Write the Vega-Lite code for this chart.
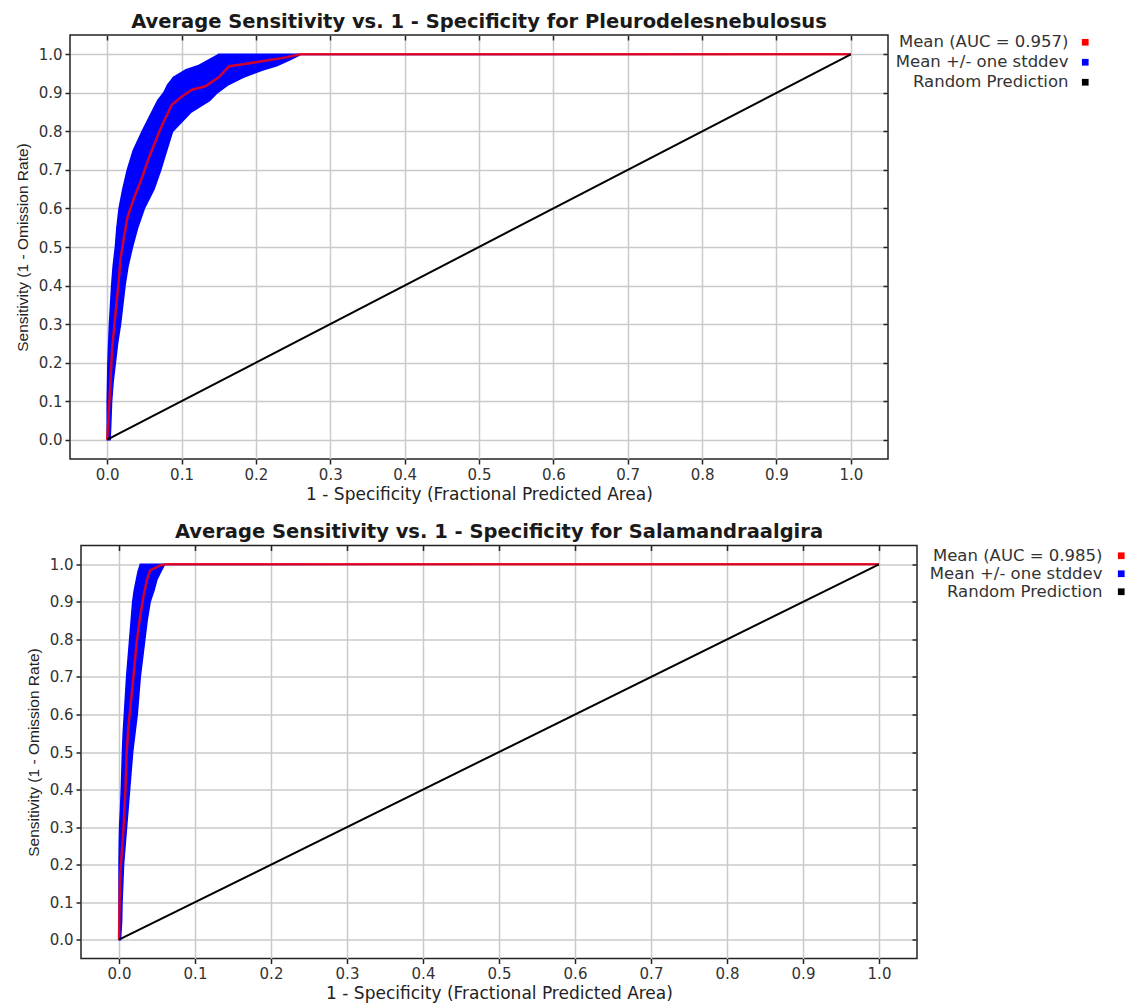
{
  "$schema": "https://vega.github.io/schema/vega-lite/v6.json",
  "background": "white",
  "padding": {"left": 5, "top": 11, "right": 0, "bottom": 0},
  "config": {
    "view": {"stroke": "#222", "strokeWidth": 1.5},
    "axis": {
      "domain": false,
      "grid": true,
      "gridColor": "#cacaca",
      "gridWidth": 1.5,
      "tickColor": "#222",
      "tickWidth": 1.5,
      "tickSize": 5,
      "labelFont": "DejaVu Sans",
      "labelFontSize": 15,
      "labelColor": "#333",
      "labelPadding": 3,
      "labelFlush": false,
      "titleFont": "DejaVu Sans",
      "titleFontSize": 17,
      "titleFontWeight": "normal",
      "titleColor": "#222"
    },
    "axisY": {"titleFont": "Liberation Sans", "titleFontSize": 15.5, "titlePadding": 8},
    "axisX": {"titlePadding": 4},
    "title": {"font": "DejaVu Sans", "fontSize": 19.5, "fontWeight": "bold", "color": "#1a1a1a", "offset": 2, "anchor": "middle", "frame": "group"},
    "legend": {
      "orient": "none",
      "title": null,
      "padding": 0,
      "symbolType": "square",
      "symbolSize": 45,
      "symbolStrokeWidth": 0,
      "labelFont": "DejaVu Sans",
      "labelFontSize": 16.5,
      "labelColor": "#333",
      "labelAlign": "right",
      "labelLimit": 400,
      "rowPadding": 3
    }
  },
  "datasets": {
    "band1": [
      {"series": "Mean +/- one stddev", "sens": 0, "lo": 0, "hi": 0.004},
      {"series": "Mean +/- one stddev", "sens": 0.05, "lo": 0, "hi": 0.005},
      {"series": "Mean +/- one stddev", "sens": 0.1, "lo": 0, "hi": 0.006},
      {"series": "Mean +/- one stddev", "sens": 0.15, "lo": 0.0005, "hi": 0.008},
      {"series": "Mean +/- one stddev", "sens": 0.2, "lo": 0.001, "hi": 0.011},
      {"series": "Mean +/- one stddev", "sens": 0.25, "lo": 0.002, "hi": 0.014},
      {"series": "Mean +/- one stddev", "sens": 0.3, "lo": 0.003, "hi": 0.018},
      {"series": "Mean +/- one stddev", "sens": 0.35, "lo": 0.0045, "hi": 0.021},
      {"series": "Mean +/- one stddev", "sens": 0.4, "lo": 0.006, "hi": 0.024},
      {"series": "Mean +/- one stddev", "sens": 0.45, "lo": 0.008, "hi": 0.028},
      {"series": "Mean +/- one stddev", "sens": 0.5, "lo": 0.011, "hi": 0.034},
      {"series": "Mean +/- one stddev", "sens": 0.55, "lo": 0.013, "hi": 0.041},
      {"series": "Mean +/- one stddev", "sens": 0.6, "lo": 0.016, "hi": 0.05},
      {"series": "Mean +/- one stddev", "sens": 0.65, "lo": 0.021, "hi": 0.063},
      {"series": "Mean +/- one stddev", "sens": 0.7, "lo": 0.027, "hi": 0.072},
      {"series": "Mean +/- one stddev", "sens": 0.75, "lo": 0.035, "hi": 0.08},
      {"series": "Mean +/- one stddev", "sens": 0.8, "lo": 0.047, "hi": 0.088},
      {"series": "Mean +/- one stddev", "sens": 0.85, "lo": 0.06, "hi": 0.113},
      {"series": "Mean +/- one stddev", "sens": 0.88, "lo": 0.068, "hi": 0.138},
      {"series": "Mean +/- one stddev", "sens": 0.9, "lo": 0.076, "hi": 0.148},
      {"series": "Mean +/- one stddev", "sens": 0.92, "lo": 0.081, "hi": 0.162},
      {"series": "Mean +/- one stddev", "sens": 0.94, "lo": 0.089, "hi": 0.183},
      {"series": "Mean +/- one stddev", "sens": 0.96, "lo": 0.106, "hi": 0.21},
      {"series": "Mean +/- one stddev", "sens": 0.97, "lo": 0.122, "hi": 0.228},
      {"series": "Mean +/- one stddev", "sens": 0.985, "lo": 0.136, "hi": 0.245},
      {"series": "Mean +/- one stddev", "sens": 0.9995, "lo": 0.15, "hi": 0.26},
      {"series": "Mean +/- one stddev", "sens": 1.0, "lo": 0.15, "hi": 1.0}
    ],
    "mean1": [
      {"fpr": 0, "sens": 0},
      {"fpr": 0.003, "sens": 0.1},
      {"fpr": 0.0067, "sens": 0.237},
      {"fpr": 0.011, "sens": 0.324},
      {"fpr": 0.015, "sens": 0.4},
      {"fpr": 0.018, "sens": 0.471},
      {"fpr": 0.027, "sens": 0.575},
      {"fpr": 0.036, "sens": 0.627},
      {"fpr": 0.045, "sens": 0.67},
      {"fpr": 0.056, "sens": 0.731},
      {"fpr": 0.065, "sens": 0.775},
      {"fpr": 0.074, "sens": 0.817},
      {"fpr": 0.087, "sens": 0.869},
      {"fpr": 0.1, "sens": 0.89},
      {"fpr": 0.114, "sens": 0.908},
      {"fpr": 0.132, "sens": 0.917},
      {"fpr": 0.15, "sens": 0.94},
      {"fpr": 0.164, "sens": 0.969},
      {"fpr": 0.185, "sens": 0.975},
      {"fpr": 0.208, "sens": 0.982},
      {"fpr": 0.235, "sens": 0.99},
      {"fpr": 0.26, "sens": 1.0},
      {"fpr": 1.0, "sens": 1.0}
    ],
    "band2": [
      {"series": "Mean +/- one stddev", "sens": 0, "lo": 0, "hi": 0.002},
      {"series": "Mean +/- one stddev", "sens": 0.05, "lo": 0, "hi": 0.0035},
      {"series": "Mean +/- one stddev", "sens": 0.1, "lo": 0, "hi": 0.004},
      {"series": "Mean +/- one stddev", "sens": 0.15, "lo": 0, "hi": 0.005},
      {"series": "Mean +/- one stddev", "sens": 0.2, "lo": 0, "hi": 0.006},
      {"series": "Mean +/- one stddev", "sens": 0.25, "lo": 0.0003, "hi": 0.008},
      {"series": "Mean +/- one stddev", "sens": 0.3, "lo": 0.0008, "hi": 0.01},
      {"series": "Mean +/- one stddev", "sens": 0.35, "lo": 0.002, "hi": 0.012},
      {"series": "Mean +/- one stddev", "sens": 0.4, "lo": 0.003, "hi": 0.014},
      {"series": "Mean +/- one stddev", "sens": 0.45, "lo": 0.0038, "hi": 0.016},
      {"series": "Mean +/- one stddev", "sens": 0.5, "lo": 0.0045, "hi": 0.018},
      {"series": "Mean +/- one stddev", "sens": 0.55, "lo": 0.0055, "hi": 0.021},
      {"series": "Mean +/- one stddev", "sens": 0.6, "lo": 0.007, "hi": 0.024},
      {"series": "Mean +/- one stddev", "sens": 0.65, "lo": 0.0085, "hi": 0.026},
      {"series": "Mean +/- one stddev", "sens": 0.7, "lo": 0.01, "hi": 0.028},
      {"series": "Mean +/- one stddev", "sens": 0.75, "lo": 0.012, "hi": 0.031},
      {"series": "Mean +/- one stddev", "sens": 0.8, "lo": 0.014, "hi": 0.034},
      {"series": "Mean +/- one stddev", "sens": 0.85, "lo": 0.016, "hi": 0.037},
      {"series": "Mean +/- one stddev", "sens": 0.9, "lo": 0.018, "hi": 0.041},
      {"series": "Mean +/- one stddev", "sens": 0.93, "lo": 0.02, "hi": 0.046},
      {"series": "Mean +/- one stddev", "sens": 0.96, "lo": 0.023, "hi": 0.05},
      {"series": "Mean +/- one stddev", "sens": 0.98, "lo": 0.025, "hi": 0.055},
      {"series": "Mean +/- one stddev", "sens": 0.9995, "lo": 0.028, "hi": 0.06},
      {"series": "Mean +/- one stddev", "sens": 1.0, "lo": 0.028, "hi": 1.0}
    ],
    "mean2": [
      {"fpr": 0, "sens": 0},
      {"fpr": 0.0013, "sens": 0.166},
      {"fpr": 0.0057, "sens": 0.29},
      {"fpr": 0.0085, "sens": 0.4},
      {"fpr": 0.01, "sens": 0.495},
      {"fpr": 0.0123, "sens": 0.566},
      {"fpr": 0.015, "sens": 0.62},
      {"fpr": 0.019, "sens": 0.7},
      {"fpr": 0.023, "sens": 0.788},
      {"fpr": 0.027, "sens": 0.85},
      {"fpr": 0.032, "sens": 0.913},
      {"fpr": 0.037, "sens": 0.96},
      {"fpr": 0.041, "sens": 0.984},
      {"fpr": 0.054, "sens": 0.997},
      {"fpr": 0.062, "sens": 1.0},
      {"fpr": 1.0, "sens": 1.0}
    ],
    "diag": [
      {"fpr": 0, "sens": 0},
      {"fpr": 1, "sens": 1}
    ]
  },
  "resolve": {"scale": {"color": "independent"}, "legend": {"color": "independent"}},
  "spacing": 18.5,
  "vconcat": [
    {
      "spacing": 2,
      "hconcat": [
        {
          "width": 1,
          "height": 1,
          "view": {"stroke": null},
          "data": {"values": [{"a": 0}]},
          "mark": {"type": "point", "opacity": 0},
          "encoding": {}
        },
        {
          "width": 818,
          "height": 424,
          "title": "Average Sensitivity vs. 1 - Specificity for Pleurodelesnebulosus",
          "resolve": {"axis": {"x": "independent", "y": "independent"}},
          "layer": [
            {
              "data": {"name": "band1"},
              "mark": {"type": "area", "orient": "horizontal", "stroke": "#0000ff", "strokeWidth": 1.5},
              "encoding": {
                "y": {"field": "sens", "type": "quantitative", "title": "Sensitivity (1 - Omission Rate)", "scale": {"domain": [-0.05, 1.05], "nice": false, "zero": false}, "axis": {"values": [0, 0.1, 0.2, 0.3, 0.4, 0.5, 0.6, 0.7, 0.8, 0.9, 1.0], "format": ".1f"}},
                "x": {"field": "lo", "type": "quantitative", "title": "1 - Specificity (Fractional Predicted Area)", "scale": {"domain": [-0.05, 1.05], "nice": false, "zero": false}, "axis": {"values": [0, 0.1, 0.2, 0.3, 0.4, 0.5, 0.6, 0.7, 0.8, 0.9, 1.0], "format": ".1f"}},
                "x2": {"field": "hi"},
                "color": {"field": "series", "type": "nominal", "scale": {"domain": ["Mean (AUC = 0.957)", "Mean +/- one stddev", "Random Prediction"], "range": ["#ff0000", "#0000ff", "#000000"]}, "legend": {"legendX": 1069, "legendY": -1, "labelOffset": -25}}
              }
            },
            {
              "data": {"name": "mean1"},
              "mark": {"type": "line", "color": "#ff0000", "strokeWidth": 2.5, "opacity": 0.82},
              "encoding": {
                "x": {"field": "fpr", "type": "quantitative", "axis": null},
                "y": {"field": "sens", "type": "quantitative", "axis": null}
              }
            },
            {
              "data": {"name": "diag"},
              "mark": {"type": "line", "color": "#000000", "strokeWidth": 2},
              "encoding": {
                "x": {"field": "fpr", "type": "quantitative", "title": null, "axis": {"orient": "top", "values": [0, 0.1, 0.2, 0.3, 0.4, 0.5, 0.6, 0.7, 0.8, 0.9, 1.0], "labels": false, "grid": false, "tickSize": -5}},
                "y": {"field": "sens", "type": "quantitative", "title": null, "axis": {"orient": "right", "values": [0, 0.1, 0.2, 0.3, 0.4, 0.5, 0.6, 0.7, 0.8, 0.9, 1.0], "labels": false, "grid": false, "tickSize": -5}}
              }
            }
          ]
        }
      ]
    },
    {
      "spacing": 13,
      "hconcat": [
        {
          "width": 1,
          "height": 1,
          "view": {"stroke": null},
          "data": {"values": [{"a": 0}]},
          "mark": {"type": "point", "opacity": 0},
          "encoding": {}
        },
        {
          "width": 836,
          "height": 413,
          "title": "Average Sensitivity vs. 1 - Specificity for Salamandraalgira",
          "resolve": {"axis": {"x": "independent", "y": "independent"}},
          "layer": [
            {
              "data": {"name": "band2"},
              "mark": {"type": "area", "orient": "horizontal", "stroke": "#0000ff", "strokeWidth": 1.5},
              "encoding": {
                "y": {"field": "sens", "type": "quantitative", "title": "Sensitivity (1 - Omission Rate)", "scale": {"domain": [-0.05, 1.05], "nice": false, "zero": false}, "axis": {"values": [0, 0.1, 0.2, 0.3, 0.4, 0.5, 0.6, 0.7, 0.8, 0.9, 1.0], "format": ".1f"}},
                "x": {"field": "lo", "type": "quantitative", "title": "1 - Specificity (Fractional Predicted Area)", "scale": {"domain": [-0.05, 1.05], "nice": false, "zero": false}, "axis": {"values": [0, 0.1, 0.2, 0.3, 0.4, 0.5, 0.6, 0.7, 0.8, 0.9, 1.0], "format": ".1f"}},
                "x2": {"field": "hi"},
                "color": {"field": "series", "type": "nominal", "scale": {"domain": ["Mean (AUC = 0.985)", "Mean +/- one stddev", "Random Prediction"], "range": ["#ff0000", "#0000ff", "#000000"]}, "legend": {"legendX": 1105, "legendY": 2, "labelOffset": -27, "rowPadding": 1}}
              }
            },
            {
              "data": {"name": "mean2"},
              "mark": {"type": "line", "color": "#ff0000", "strokeWidth": 2.5, "opacity": 0.82},
              "encoding": {
                "x": {"field": "fpr", "type": "quantitative", "axis": null},
                "y": {"field": "sens", "type": "quantitative", "axis": null}
              }
            },
            {
              "data": {"name": "diag"},
              "mark": {"type": "line", "color": "#000000", "strokeWidth": 2},
              "encoding": {
                "x": {"field": "fpr", "type": "quantitative", "title": null, "axis": {"orient": "top", "values": [0, 0.1, 0.2, 0.3, 0.4, 0.5, 0.6, 0.7, 0.8, 0.9, 1.0], "labels": false, "grid": false, "tickSize": -5}},
                "y": {"field": "sens", "type": "quantitative", "title": null, "axis": {"orient": "right", "values": [0, 0.1, 0.2, 0.3, 0.4, 0.5, 0.6, 0.7, 0.8, 0.9, 1.0], "labels": false, "grid": false, "tickSize": -5}}
              }
            }
          ]
        }
      ]
    }
  ]
}
